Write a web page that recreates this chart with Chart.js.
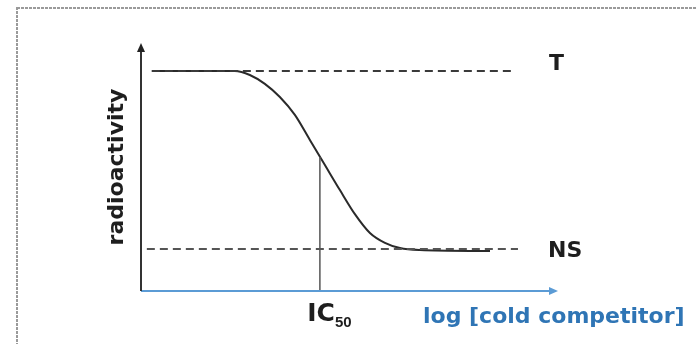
<!DOCTYPE html>
<html lang="en">
<head>
    <meta charset="UTF-8">
    <title>IC50 competition curve</title>
    <script src="https://cdn.jsdelivr.net/npm/chart.js@4.4.0/dist/chart.umd.min.js"></script>
    <style>
        body {
            margin: 0;
            padding: 0;
            background: #fff;
        }
        .chart-box {
            width: 697px;
            height: 344px;
        }
    </style>
</head>
<body>
    <div class="chart-box">
        <canvas id="icChart" width="697" height="344"></canvas>
    </div>
    <script>
        // curve (x = log concentration, y = radioactivity)
        const logConc = [0.26, 2.25, 2.61, 2.97, 3.33, 3.69, 4.05, 4.41, 4.77, 5.13, 5.49, 5.85, 6.21, 6.69, 8.37];
        const radioactivity = [88.7, 88.7, 87.1, 83.5, 78.2, 71.0, 60.9, 50.8, 40.7, 31.0, 23.4, 19.4, 17.3, 16.5, 16.1];

        // reference levels
        const totalLevel = 88.7;   // T
        const nsLevel = 16.9;      // NS
        const totalSpan = [0.26, 8.97];
        const nsSpan = [0.14, 9.04];
        const ic50 = 4.29;
        const ic50Height = 54.0;

        const labelT = 'T';
        const labelNS = 'NS';
        const labelIC = ['IC', '50'];
        const yTitle = 'radioactivity';
        const xTitle = 'log [cold competitor]';

        const FONT = '"DejaVu Sans", sans-serif';
        const BLUE_TEXT = '#2f75b5';
        const BLUE_AXIS = '#5b9bd5';

        const curve = logConc.map((x, i) => ({ x: x, y: radioactivity[i] }));

        const decor = {
            id: 'decor',
            beforeDraw(chart) {
                const ctx = chart.ctx;
                ctx.save();
                ctx.fillStyle = '#fff';
                ctx.fillRect(0, 0, chart.width, chart.height);
                // dotted frame, cut off at right and bottom
                ctx.strokeStyle = '#9a9a9a';
                ctx.lineWidth = 2;
                ctx.setLineDash([3, 1]);
                ctx.strokeRect(17, 8, chart.width, chart.height);
                ctx.restore();
            },
            afterDatasetsDraw(chart) {
                const ctx = chart.ctx;
                const xs = chart.scales.x, ys = chart.scales.y;
                const left = xs.getPixelForValue(0);
                const right = xs.getPixelForValue(10);
                const bottom = ys.getPixelForValue(0);
                const top = ys.getPixelForValue(100);
                ctx.save();

                // x axis (blue) with arrow
                ctx.strokeStyle = BLUE_AXIS;
                ctx.lineWidth = 2;
                ctx.beginPath();
                ctx.moveTo(left, bottom);
                ctx.lineTo(right - 6, bottom);
                ctx.stroke();
                ctx.fillStyle = BLUE_AXIS;
                ctx.beginPath();
                ctx.moveTo(right, bottom);
                ctx.lineTo(right - 9, bottom - 4);
                ctx.lineTo(right - 9, bottom + 4);
                ctx.closePath();
                ctx.fill();

                // y axis with arrow
                ctx.strokeStyle = '#333';
                ctx.beginPath();
                ctx.moveTo(left, bottom);
                ctx.lineTo(left, top + 6);
                ctx.stroke();
                ctx.fillStyle = '#222';
                ctx.beginPath();
                ctx.moveTo(left, top);
                ctx.lineTo(left - 4, top + 9);
                ctx.lineTo(left + 4, top + 9);
                ctx.closePath();
                ctx.fill();

                // labels
                ctx.fillStyle = '#1e1e1e';
                ctx.font = 'bold 22px ' + FONT;
                ctx.textBaseline = 'alphabetic';
                ctx.textAlign = 'left';
                ctx.fillText(labelT, 549, ys.getPixelForValue(totalLevel) - 1);
                ctx.fillText(labelNS, 548, ys.getPixelForValue(nsLevel) + 8);

                const icX = xs.getPixelForValue(ic50);
                ctx.font = 'bold 25px ' + FONT;
                ctx.textAlign = 'right';
                ctx.fillText(labelIC[0], icX + 15, 321);
                ctx.font = 'bold 15px "Liberation Sans", sans-serif';
                ctx.textAlign = 'left';
                ctx.fillText(labelIC[1], icX + 15, 327);

                ctx.fillStyle = BLUE_TEXT;
                ctx.font = 'bold 22px ' + FONT;
                ctx.fillText(xTitle, 423, 323);

                ctx.fillStyle = '#1e1e1e';
                ctx.translate(123, 167);
                ctx.rotate(-Math.PI / 2);
                ctx.textAlign = 'center';
                ctx.fillText(yTitle, 0, 0);

                ctx.restore();
            }
        };

        new Chart(document.getElementById('icChart'), {
            type: 'line',
            data: {
                datasets: [
                    {
                        data: totalSpan.map(x => ({ x: x, y: totalLevel })),
                        borderColor: '#3a3a3a',
                        borderWidth: 2,
                        borderDash: [8, 5],
                        pointRadius: 0
                    },
                    {
                        data: nsSpan.map(x => ({ x: x, y: nsLevel })),
                        borderColor: '#555',
                        borderWidth: 2,
                        borderDash: [8, 5],
                        pointRadius: 0
                    },
                    {
                        data: [{ x: ic50, y: 0 }, { x: ic50, y: ic50Height }],
                        borderColor: '#555',
                        borderWidth: 1.5,
                        pointRadius: 0
                    },
                    {
                        data: curve,
                        borderColor: '#2a2a2a',
                        borderWidth: 2,
                        pointRadius: 0,
                        cubicInterpolationMode: 'monotone'
                    }
                ]
            },
            options: {
                responsive: false,
                animation: false,
                devicePixelRatio: 1,
                layout: {
                    padding: { left: 141, right: 139, top: 43, bottom: 53 }
                },
                plugins: {
                    legend: { display: false },
                    tooltip: { enabled: false }
                },
                scales: {
                    x: { type: 'linear', min: 0, max: 10, display: false },
                    y: { type: 'linear', min: 0, max: 100, display: false }
                }
            },
            plugins: [decor]
        });
    </script>
</body>
</html>
